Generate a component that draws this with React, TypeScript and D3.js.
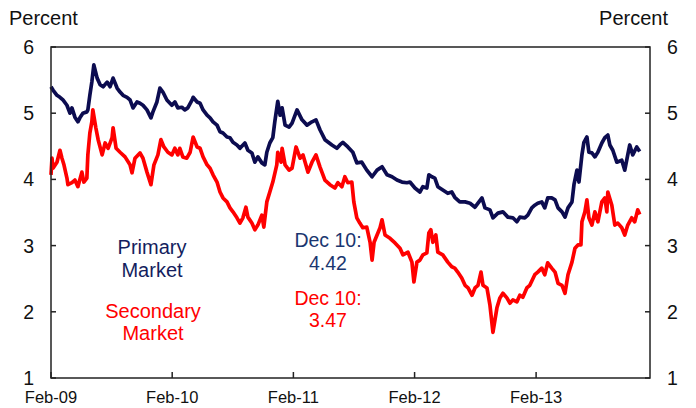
import React from "react";
import * as d3 from "d3";

// ---- Data ----
const primaryDates = [
  "2009-02-01","2009-02-07","2009-02-19","2009-02-28","2009-03-09","2009-03-21","2009-03-30","2009-04-05","2009-04-14","2009-04-23",
  "2009-04-29","2009-05-08","2009-05-20","2009-05-23","2009-05-29","2009-06-04","2009-06-10","2009-06-20","2009-06-29","2009-07-08",
  "2009-07-20","2009-07-29","2009-08-07","2009-08-19","2009-08-28","2009-09-06","2009-09-18","2009-09-27","2009-10-06","2009-10-18",
  "2009-10-27","2009-11-05","2009-11-17","2009-11-29","2009-12-05","2009-12-17","2009-12-26","2010-01-04","2010-01-16","2010-01-31",
  "2010-02-09","2010-02-18","2010-03-02","2010-03-11","2010-03-20","2010-04-02","2010-04-05","2010-04-17","2010-04-26","2010-05-05",
  "2010-05-17","2010-05-26","2010-06-04","2010-06-16","2010-06-25","2010-07-04","2010-07-16","2010-07-25","2010-08-03","2010-08-15",
  "2010-08-24","2010-09-08","2010-09-17","2010-09-29","2010-10-08","2010-10-17","2010-10-29","2010-11-07","2010-11-13","2010-11-22",
  "2010-12-01","2010-12-07","2010-12-16","2010-12-23","2010-12-29","2011-01-07","2011-01-19","2011-01-28","2011-02-12","2011-02-27",
  "2011-03-14","2011-03-29","2011-04-10","2011-04-22","2011-05-07","2011-05-28","2011-06-12","2011-06-21","2011-06-30","2011-07-15",
  "2011-07-30","2011-08-11","2011-08-26","2011-09-10","2011-09-26","2011-10-11","2011-10-26","2011-11-10","2011-11-25","2011-12-10",
  "2011-12-25","2012-01-09","2012-01-18","2012-02-02","2012-02-17","2012-02-26","2012-03-09","2012-03-15","2012-03-24","2012-04-02",
  "2012-04-11","2012-04-26","2012-05-11","2012-05-23","2012-06-01","2012-06-16","2012-07-02","2012-07-17","2012-08-01","2012-08-10",
  "2012-08-22","2012-08-31","2012-09-15","2012-09-24","2012-10-09","2012-10-24","2012-11-08","2012-11-23","2012-12-05","2012-12-14",
  "2012-12-29","2013-01-07","2013-01-19","2013-01-28","2013-02-06","2013-02-18","2013-02-27","2013-03-08","2013-03-20","2013-03-30",
  "2013-04-08","2013-04-20","2013-04-29","2013-05-08","2013-05-20","2013-05-26","2013-06-04","2013-06-10","2013-06-19","2013-06-25",
  "2013-07-04","2013-07-10","2013-07-19","2013-07-28","2013-08-06","2013-08-18","2013-08-27","2013-09-05","2013-09-11","2013-09-20",
  "2013-10-02","2013-10-17","2013-10-26","2013-11-04","2013-11-10","2013-11-19","2013-12-01","2013-12-10",
];
const primaryValues = [
  5.40,5.35,5.27,5.24,5.20,5.12,5.00,5.08,4.94,4.87,
  4.93,5.00,5.02,5.05,5.27,5.47,5.73,5.53,5.43,5.40,
  5.47,5.40,5.53,5.38,5.32,5.27,5.24,5.20,5.08,5.17,
  5.15,5.12,5.05,4.93,5.02,5.17,5.38,5.32,5.20,5.12,
  5.17,5.08,5.09,5.05,5.08,5.20,5.24,5.17,5.15,5.05,
  4.97,4.93,4.87,4.82,4.72,4.70,4.64,4.63,4.56,4.52,
  4.47,4.55,4.44,4.40,4.26,4.34,4.25,4.22,4.41,4.55,
  4.63,4.87,5.18,4.97,5.08,4.82,4.79,4.85,5.05,4.90,
  4.82,4.87,4.90,4.75,4.60,4.52,4.47,4.52,4.56,4.49,
  4.41,4.25,4.26,4.14,4.04,4.14,4.19,4.07,4.04,3.99,
  3.96,3.95,3.96,3.87,3.81,3.89,3.87,4.07,4.04,4.02,
  3.89,3.84,3.79,3.81,3.73,3.66,3.66,3.64,3.58,3.64,
  3.72,3.57,3.54,3.42,3.49,3.51,3.43,3.42,3.36,3.43,
  3.42,3.46,3.57,3.61,3.64,3.66,3.57,3.72,3.72,3.69,
  3.57,3.51,3.43,3.57,3.66,3.92,4.14,3.96,4.37,4.56,
  4.64,4.41,4.40,4.34,4.41,4.55,4.63,4.67,4.52,4.44,
  4.26,4.29,4.14,4.37,4.52,4.37,4.49,4.42,
];

const secondaryDates = [
  "2009-02-01","2009-02-04","2009-02-07","2009-02-19","2009-02-28","2009-03-06","2009-03-12","2009-03-21","2009-03-24","2009-04-05",
  "2009-04-14","2009-04-23","2009-05-05","2009-05-11","2009-05-20","2009-05-23","2009-05-29","2009-06-04","2009-06-07","2009-06-16",
  "2009-06-23","2009-07-05","2009-07-14","2009-07-23","2009-08-04","2009-08-07","2009-08-16","2009-08-28","2009-09-12","2009-09-27",
  "2009-10-03","2009-10-12","2009-10-27","2009-11-05","2009-11-17","2009-11-29","2009-12-08","2009-12-20","2009-12-29","2010-01-07",
  "2010-01-19","2010-01-31","2010-02-09","2010-02-18","2010-02-24","2010-03-05","2010-03-17","2010-03-27","2010-04-05","2010-04-17",
  "2010-04-26","2010-05-05","2010-05-17","2010-05-26","2010-06-04","2010-06-16","2010-06-25","2010-07-04","2010-07-16","2010-07-25",
  "2010-08-03","2010-08-15","2010-08-24","2010-09-02","2010-09-11","2010-09-17","2010-09-29","2010-10-08","2010-10-17","2010-10-29",
  "2010-11-04","2010-11-13","2010-11-22","2010-12-01","2010-12-13","2010-12-16","2010-12-26","2010-12-29","2011-01-07","2011-01-19",
  "2011-01-28","2011-02-09","2011-02-21","2011-03-02","2011-03-17","2011-03-29","2011-04-10","2011-04-22","2011-05-07","2011-05-22",
  "2011-06-06","2011-06-15","2011-06-27","2011-07-06","2011-07-15","2011-07-27","2011-08-02","2011-08-11","2011-08-20","2011-08-29",
  "2011-09-10","2011-09-20","2011-09-26","2011-10-02","2011-10-11","2011-10-20","2011-10-26","2011-11-04","2011-11-19","2011-12-04",
  "2011-12-19","2011-12-28","2012-01-12","2012-01-24","2012-01-30","2012-02-08","2012-02-17","2012-02-26","2012-03-09","2012-03-15",
  "2012-03-21","2012-03-27","2012-04-05","2012-04-11","2012-04-26","2012-05-11","2012-05-23","2012-06-01","2012-06-10","2012-06-22",
  "2012-07-02","2012-07-11","2012-07-23","2012-08-01","2012-08-10","2012-08-19","2012-08-25","2012-09-06","2012-09-15","2012-09-24",
  "2012-10-06","2012-10-15","2012-10-24","2012-11-05","2012-11-14","2012-11-23","2012-12-05","2012-12-14","2012-12-23","2013-01-04",
  "2013-01-13","2013-01-28","2013-02-06","2013-02-18","2013-02-27","2013-03-08","2013-03-20","2013-03-30","2013-04-08","2013-04-20",
  "2013-04-29","2013-05-08","2013-05-20","2013-05-29","2013-06-07","2013-06-16","2013-06-19","2013-06-28","2013-07-04","2013-07-10",
  "2013-07-19","2013-07-28","2013-08-06","2013-08-18","2013-08-27","2013-09-02","2013-09-05","2013-09-17","2013-09-26","2013-10-05",
  "2013-10-17","2013-10-26","2013-11-04","2013-11-16","2013-11-25","2013-12-04","2013-12-10",
];
const secondaryValues = [
  4.07,4.32,4.17,4.26,4.44,4.32,4.22,4.02,3.92,3.95,
  3.99,3.89,4.11,3.96,4.02,4.37,4.70,4.87,5.05,4.78,
  4.60,4.37,4.55,4.47,4.63,4.78,4.47,4.41,4.34,4.22,
  4.10,4.32,4.40,4.32,4.11,3.92,4.22,4.37,4.60,4.49,
  4.41,4.37,4.47,4.37,4.47,4.34,4.32,4.41,4.64,4.49,
  4.47,4.34,4.22,4.17,4.07,3.96,3.81,3.72,3.66,3.57,
  3.51,3.42,3.34,3.42,3.58,3.43,3.34,3.24,3.31,3.46,
  3.28,3.66,3.81,3.96,4.22,4.41,4.26,4.47,4.22,4.14,
  4.17,4.49,4.32,4.37,4.11,4.26,4.37,4.19,3.99,3.92,
  3.87,3.95,3.89,4.04,3.95,3.96,3.66,3.42,3.34,3.27,
  3.28,3.05,2.78,3.05,3.16,3.27,3.39,3.16,3.11,3.04,
  2.96,2.86,2.90,2.75,2.45,2.75,2.78,2.86,2.89,3.19,
  3.24,3.05,3.16,2.90,2.86,2.75,2.68,2.66,2.60,2.51,
  2.40,2.36,2.25,2.36,2.40,2.60,2.40,2.36,2.10,1.69,
  2.06,2.21,2.28,2.21,2.13,2.18,2.15,2.25,2.22,2.36,
  2.40,2.56,2.60,2.66,2.56,2.74,2.66,2.60,2.43,2.40,
  2.28,2.56,2.75,2.96,3.01,3.01,3.36,3.51,3.69,3.42,
  3.31,3.51,3.36,3.66,3.72,3.51,3.81,3.61,3.31,3.34,
  3.27,3.16,3.31,3.42,3.36,3.54,3.47,
];

const yTicks = [1, 2, 3, 4, 5, 6];
const xTickDates = ["2009-02-01", "2010-02-01", "2011-02-01", "2012-02-01", "2013-02-01"];
const xDomain = ["2009-02-01", "2014-01-10"];
const yDomain = [1, 6];

const FONT = "'Liberation Sans', Arial, Helvetica, sans-serif";
const NAVY = "#0c0c50";
const RED = "#ff0000";

export default function App() {
  const parse = d3.timeParse("%Y-%m-%d");
  const left = 51, right = 650, top = 47, bottom = 378;
  const x = d3.scaleTime().domain(xDomain.map((s) => parse(s) as Date)).range([left, right]);
  const y = d3.scaleLinear().domain(yDomain).range([bottom, top]);
  const fmt = d3.timeFormat("%b-%y");

  const primary = primaryDates.map((d, i) => [parse(d) as Date, primaryValues[i]] as [Date, number]);
  const secondary = secondaryDates.map((d, i) => [parse(d) as Date, secondaryValues[i]] as [Date, number]);
  const line = d3
    .line<[Date, number]>()
    .x((d) => x(d[0]))
    .y((d) => y(d[1]));

  const axisColor = "#222";

  return (
    <svg
      width={696}
      height={408}
      style={{ position: "absolute", left: 0, top: 0, background: "#fff" }}
      fontFamily={FONT}
    >
      <rect x={0} y={0} width={696} height={408} fill="#fff" />

      {/* series */}
      <path d={line(secondary) || ""} fill="none" stroke={RED} strokeWidth={3.7} strokeLinejoin="round" />
      <path d={line(primary) || ""} fill="none" stroke={NAVY} strokeWidth={3.7} strokeLinejoin="round" />

      {/* frame */}
      <rect x={left} y={top} width={right - left} height={bottom - top} fill="none" stroke={axisColor} strokeWidth={1.5} />

      {/* y ticks */}
      {yTicks.map((t) => (
        <g key={"y" + t}>
          <line x1={left} x2={left + 5} y1={y(t)} y2={y(t)} stroke={axisColor} strokeWidth={1.5} />
          <line x1={right - 5} x2={right} y1={y(t)} y2={y(t)} stroke={axisColor} strokeWidth={1.5} />
          <text x={34} y={y(t)} dy="0.36em" textAnchor="end" fontSize={19.5} fill="#111">
            {t}
          </text>
          <text x={667} y={y(t)} dy="0.36em" textAnchor="start" fontSize={19.5} fill="#111">
            {t}
          </text>
        </g>
      ))}

      {/* x ticks */}
      {xTickDates.map((s) => {
        const d = parse(s) as Date;
        const px = x(d);
        return (
          <g key={s}>
            <line x1={px} x2={px} y1={bottom} y2={bottom - 6} stroke={axisColor} strokeWidth={1.5} />
            <text x={px} y={403} textAnchor="middle" fontSize={16.5} fill="#111">
              {fmt(d)}
            </text>
          </g>
        );
      })}

      {/* unit labels */}
      <text x={9} y={25} fontSize={20} fill="#111">Percent</text>
      <text x={668} y={25} fontSize={20} fill="#111" textAnchor="end">Percent</text>

      {/* annotations */}
      <text x={152} y={254} fontSize={20} fill="#141e5e" textAnchor="middle">Primary</text>
      <text x={152} y={277} fontSize={20} fill="#141e5e" textAnchor="middle">Market</text>
      <text x={153} y={318} fontSize={20} fill={RED} textAnchor="middle">Secondary</text>
      <text x={153} y={340} fontSize={20} fill={RED} textAnchor="middle">Market</text>

      <text x={328} y={247} fontSize={19.5} fill="#1a3670" textAnchor="middle">Dec 10:</text>
      <text x={328} y={270} fontSize={19.5} fill="#1a3670" textAnchor="middle">4.42</text>
      <text x={328} y={305} fontSize={19.5} fill={RED} textAnchor="middle">Dec 10:</text>
      <text x={328} y={327} fontSize={19.5} fill={RED} textAnchor="middle">3.47</text>
    </svg>
  );
}
